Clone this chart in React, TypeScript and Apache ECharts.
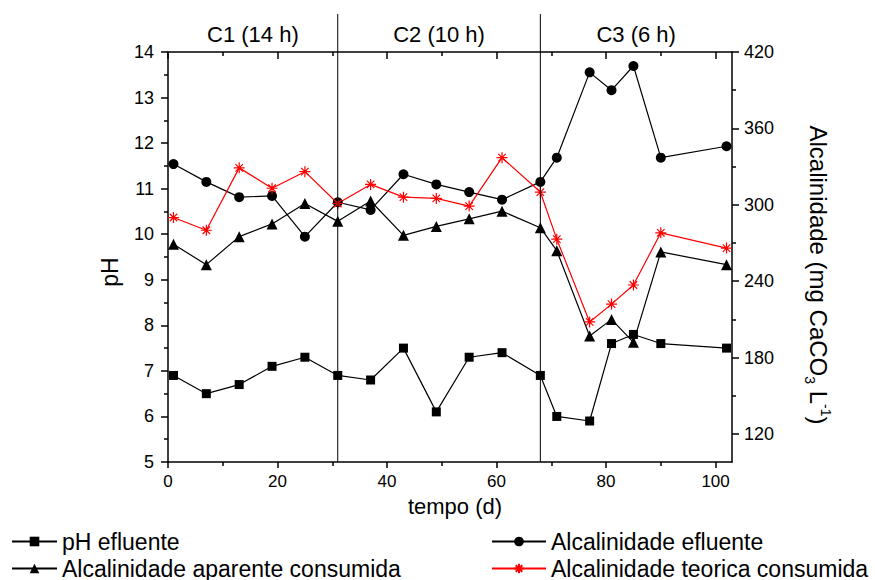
import React, { useEffect, useRef } from 'react';
import * as echarts from 'echarts';

// ---- data ----
const days = [1, 7, 13, 19, 25, 31, 37, 43, 49, 55, 61, 68, 71, 77, 81, 85, 90, 102];
const phEfluente = [6.9, 6.5, 6.7, 7.1, 7.3, 6.9, 6.8, 7.5, 6.1, 7.3, 7.4, 6.9, 6.0, 5.9, 7.6, 7.8, 7.6, 7.5];
const alcEfluente = [332, 318, 306, 307, 275, 302, 296, 324, 316, 310, 304, 318, 337, 404, 390, 409, 337, 346];
const alcAparente = [269, 253, 275, 285, 301, 287, 303, 276, 283, 289, 295, 282, 264, 197, 210, 192, 263, 253];
const alcTeorica = [290, 280, 329, 313, 326, 301, 316, 306, 305, 299, 337, 310, 273, 208, 222, 237, 278, 266];

const xMajorTicks = [0, 20, 40, 60, 80, 100];
const xMinorTicks = [10, 30, 50, 70, 90];
const rightMajorTicks = [120, 180, 240, 300, 360, 420];
const rightMinorTicks = [150, 210, 270, 330, 390];
const phaseBoundaries = [31, 68];
const phaseLabels = ['C1 (14 h)', 'C2 (10 h)', 'C3 (6 h)'];
const phaseStarts = [0, 31, 68];
const phaseEnds = [31, 68, 103];

const FONT = "'Liberation Sans', Arial, Helvetica, sans-serif";
const ASTERISK = 'path://M0,5L10,5M5,0L5,10M1.6,1.6L8.4,8.4M8.4,1.6L1.6,8.4';

export default function App() {
  const ref = useRef<HTMLDivElement>(null);

  useEffect(() => {
    if (!ref.current) return;
    const chart = echarts.init(ref.current, null, { renderer: 'svg' });
    const axisLS = { color: '#000', width: 1.5 };
    const pair = (vals: number[]) => days.map((d, i) => [d, vals[i]]);
    const xBase = { type: 'value', min: 0, max: 103, splitLine: { show: false } };
    const rBase = { type: 'value', min: 98, max: 420, position: 'right', splitLine: { show: false } };

    const option: any = {
      animation: false,
      grid: { left: 168, right: 143, top: 52, bottom: 118 },
      xAxis: [
        {
          ...xBase, position: 'bottom',
          axisLine: { show: true, onZero: false, lineStyle: axisLS },
          axisTick: { show: true, customValues: xMajorTicks, length: 6, lineStyle: axisLS },
          axisLabel: { show: true, customValues: xMajorTicks, fontSize: 17, color: '#000', fontFamily: FONT, margin: 11 },
        },
        {
          ...xBase, position: 'bottom',
          axisLine: { show: false, onZero: false },
          axisTick: { show: true, customValues: xMinorTicks, length: 4, lineStyle: axisLS },
          axisLabel: { show: false },
        },
        {
          ...xBase, position: 'top',
          axisLine: { show: true, onZero: false, lineStyle: axisLS },
          axisTick: { show: true, inside: true, customValues: xMajorTicks, length: 7, lineStyle: axisLS },
          axisLabel: { show: false },
        },
        {
          ...xBase, position: 'top',
          axisLine: { show: false, onZero: false },
          axisTick: { show: true, inside: true, customValues: xMinorTicks, length: 4, lineStyle: axisLS },
          axisLabel: { show: false },
        },
      ],
      yAxis: [
        {
          type: 'value', min: 5, max: 14, interval: 1, position: 'left',
          splitLine: { show: false },
          axisLine: { show: true, onZero: false, lineStyle: axisLS },
          axisTick: { show: true, length: 7, lineStyle: axisLS },
          minorTick: { show: true, splitNumber: 2, length: 4, lineStyle: axisLS },
          axisLabel: { fontSize: 18, color: '#000', fontFamily: FONT, margin: 14 },
        },
        {
          ...rBase,
          axisLine: { show: true, onZero: false, lineStyle: axisLS },
          axisTick: { show: true, customValues: rightMajorTicks, length: 7, lineStyle: axisLS },
          axisLabel: { show: true, customValues: rightMajorTicks, fontSize: 18, color: '#000', fontFamily: FONT, margin: 12 },
        },
        {
          ...rBase,
          axisLine: { show: false, onZero: false },
          axisTick: { show: true, customValues: rightMinorTicks, length: 4, lineStyle: axisLS },
          axisLabel: { show: false },
        },
      ],
      legend: [
        {
          data: ['pH efluente', 'Alcalinidade aparente consumida'],
          orient: 'vertical', left: 11, top: 530, itemWidth: 45, itemHeight: 12, itemGap: 4,
          selectedMode: false, padding: 0,
          textStyle: { fontSize: 23, color: '#000', fontFamily: FONT },
        },
        {
          data: ['Alcalinidade efluente', 'Alcalinidade teorica consumida'],
          orient: 'vertical', left: 491, top: 530, itemWidth: 54, itemHeight: 12, itemGap: 4,
          selectedMode: false, padding: 0,
          textStyle: { fontSize: 23, color: '#000', fontFamily: FONT },
        },
      ],
      series: [
        {
          name: 'pH efluente', type: 'line', xAxisIndex: 0, yAxisIndex: 0,
          data: pair(phEfluente), symbol: 'rect', symbolSize: 9,
          itemStyle: { color: '#000' }, lineStyle: { color: '#000', width: 1.2 },
        },
        {
          name: 'Alcalinidade efluente', type: 'line', xAxisIndex: 0, yAxisIndex: 1,
          data: pair(alcEfluente), symbol: 'circle', symbolSize: 10,
          itemStyle: { color: '#000' }, lineStyle: { color: '#000', width: 1.2 },
        },
        {
          name: 'Alcalinidade aparente consumida', type: 'line', xAxisIndex: 0, yAxisIndex: 1,
          data: pair(alcAparente), symbol: 'triangle', symbolSize: 11,
          itemStyle: { color: '#000' }, lineStyle: { color: '#000', width: 1.2 },
        },
        {
          name: 'Alcalinidade teorica consumida', type: 'line', xAxisIndex: 0, yAxisIndex: 1,
          data: pair(alcTeorica), symbol: ASTERISK, symbolSize: 11,
          itemStyle: { color: '#ff0000', borderColor: '#ff0000', borderWidth: 1.2 },
          lineStyle: { color: '#ff0000', width: 1.2 },
        },
      ],
    };
    chart.setOption(option);

    const px = (v: number) => chart.convertToPixel({ xAxisIndex: 0 }, v) as number;
    const yBottom = chart.convertToPixel({ yAxisIndex: 0 }, 5) as number;
    const yTop = chart.convertToPixel({ yAxisIndex: 0 }, 14) as number;
    const graphic: any[] = [];
    phaseBoundaries.forEach((b) => {
      const x = px(b);
      graphic.push({
        type: 'line', silent: true, z: 10,
        shape: { x1: x, y1: 14, x2: x, y2: yBottom },
        style: { stroke: '#000', lineWidth: 1 },
      });
    });
    phaseLabels.forEach((lab, i) => {
      graphic.push({
        type: 'text', silent: true,
        x: px((phaseStarts[i] + phaseEnds[i]) / 2), y: (14 + yTop) / 2 + 1,
        style: { text: lab, fontSize: 22, fontFamily: FONT, fill: '#000', align: 'center', verticalAlign: 'middle' },
      });
    });
    graphic.push({
      type: 'text', silent: true, x: 455, y: 506,
      style: { text: 'tempo (d)', fontSize: 22, fontFamily: FONT, fill: '#000', align: 'center', verticalAlign: 'middle' },
    });
    graphic.push({
      type: 'text', silent: true, x: 110, y: 272, rotation: Math.PI / 2,
      style: { text: 'pH', fontSize: 23, fontFamily: FONT, fill: '#000', align: 'center', verticalAlign: 'middle' },
    });
    graphic.push({
      type: 'text', silent: true, x: 818, y: 275, rotation: -Math.PI / 2,
      style: {
        text: '{a|Alcalinidade (mg CaCO}{b|3}{a| L}{c|-1}{a|)}',
        align: 'center', verticalAlign: 'middle', fill: '#000',
        rich: {
          a: { fontSize: 24, fontFamily: FONT, fill: '#000', lineHeight: 30, verticalAlign: 'middle' },
          b: { fontSize: 14, fontFamily: FONT, fill: '#000', lineHeight: 16, verticalAlign: 'bottom' },
          c: { fontSize: 14, fontFamily: FONT, fill: '#000', lineHeight: 16, verticalAlign: 'top' },
        },
      },
    });
    chart.setOption({ graphic });

    return () => chart.dispose();
  }, []);

  return (
    <div
      ref={ref}
      style={{ position: 'fixed', left: 0, top: 0, width: 875, height: 580, background: '#fff' }}
    />
  );
}
